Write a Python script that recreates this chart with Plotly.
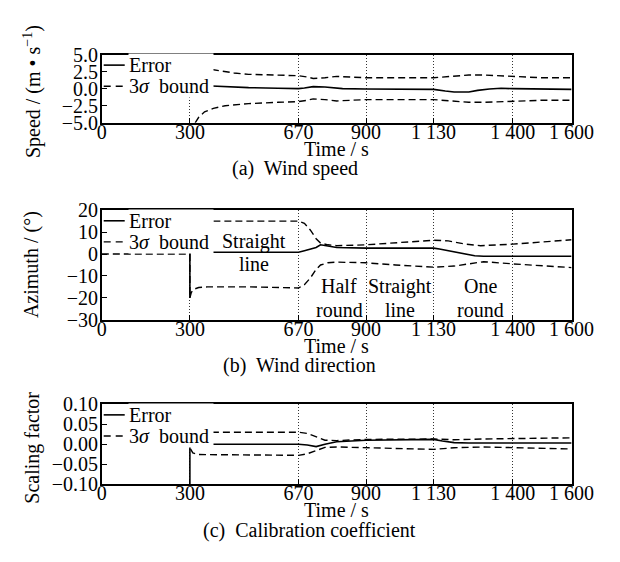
import plotly.graph_objects as go

# ---------------- data ----------------
x_ticks = [0, 300, 670, 900, 1130, 1400, 1600]
x_ticktext = ["0", "300", "670", "900", "1 130", "1 400", "1 600"]

# (a) wind speed
spd_err_t = [375, 420, 500, 600, 670, 690, 720, 760, 820, 900, 1000, 1130, 1170, 1200, 1250, 1280, 1320, 1360, 1400, 1500, 1600]
spd_err_v = [0.4, 0.3, 0.15, 0.05, 0.0, 0.1, 0.3, 0.25, 0.0, -0.05, -0.05, -0.1, -0.35, -0.5, -0.5, -0.25, -0.05, 0.05, 0.0, -0.05, -0.1]
spd_up_t = [375, 400, 450, 500, 600, 670, 700, 720, 760, 800, 850, 900, 1130, 1200, 1250, 1300, 1400, 1500, 1600]
spd_up_v = [2.8, 2.6, 2.3, 2.1, 2.0, 1.9, 1.7, 1.5, 1.6, 1.8, 1.7, 1.6, 1.6, 1.8, 2.0, 2.0, 1.8, 1.6, 1.6]
spd_lo_t = [318, 330, 350, 380, 420, 500, 600, 670, 700, 720, 760, 800, 850, 900, 1130, 1200, 1250, 1300, 1400, 1500, 1600]
spd_lo_v = [-5.0, -4.2, -3.4, -2.9, -2.5, -2.2, -2.0, -1.9, -1.7, -1.5, -1.6, -1.8, -1.7, -1.6, -1.6, -1.8, -2.0, -2.0, -1.8, -1.7, -1.7]
spd_yticks = [5.0, 2.5, 0.0, -2.5, -5.0]
spd_yticktext = ["5.0", "2.5", "0.0", "\u22122.5", "\u22125.0"]

# (b) wind direction
az_err_t = [300, 300, 310, 670, 690, 710, 730, 745, 770, 800, 900, 1000, 1130, 1150, 1180, 1210, 1240, 1270, 1300, 1400, 1600]
az_err_v = [-20, 0.8, 0.8, 0.8, 1.5, 2.2, 3.0, 4.2, 3.5, 3.0, 2.7, 2.7, 2.7, 2.3, 1.5, 0.5, 0.0, -0.8, -1.0, -1.0, -1.0]
az_up_t = [380, 500, 670, 690, 710, 730, 745, 770, 800, 900, 1000, 1130, 1180, 1240, 1290, 1400, 1500, 1600]
az_up_v = [15, 15, 15, 14, 11, 7, 5, 4.2, 3.8, 4.2, 5.0, 6.3, 6.0, 4.5, 3.8, 4.5, 5.5, 6.5]
az_lo_t = [0, 300, 300, 305, 315, 330, 360, 500, 670, 690, 710, 730, 745, 770, 800, 900, 1000, 1130, 1200, 1270, 1300, 1400, 1500, 1600]
az_lo_v = [0, 0, -20, -17.5, -16, -15.3, -15, -15, -15.5, -14, -11, -7, -5, -4, -3.7, -4, -5, -6, -5.5, -4, -3.5, -4.5, -5.5, -6.2]
az_yticks = [20, 10, 0, -10, -20, -30]
az_yticktext = ["20", "10", "0", "\u221210", "\u221220", "\u221230"]
phase_t = [517, 808, 1015, 1290]
phase_top = ["Straight", "Half", "Straight", "One"]
phase_bot = ["line", "round", "line", "round"]

# (c) calibration coefficient
sc_err_t = [300, 300, 310, 670, 700, 730, 760, 800, 900, 1130, 1160, 1200, 1250, 1600]
sc_err_v = [-0.1, 0.0, 0.0, 0.0, -0.002, -0.006, 0.0, 0.006, 0.01, 0.012, 0.008, 0.004, 0.003, 0.003]
sc_up_t = [375, 500, 670, 700, 730, 760, 800, 900, 1130, 1200, 1300, 1600]
sc_up_v = [0.03, 0.03, 0.03, 0.027, 0.018, 0.01, 0.009, 0.012, 0.013, 0.011, 0.013, 0.016]
sc_lo_t = [302, 310, 330, 500, 670, 700, 730, 760, 800, 900, 1130, 1200, 1300, 1600]
sc_lo_v = [-0.012, -0.022, -0.026, -0.027, -0.028, -0.024, -0.015, -0.008, -0.007, -0.009, -0.013, -0.009, -0.007, -0.012]
sc_yticks = [0.10, 0.05, 0.0, -0.05, -0.10]
sc_yticktext = ["0.10", "0.05", "0.00", "\u22120.05", "\u22120.10"]

# ---------------- layout ----------------
W, H = 620, 562
FONT = "Liberation Serif, Times New Roman, serif"
FS = 20
X0, X1 = 93, 585
panels = [(37, 108), (199, 313), (401, 484)]
cap_x = [295, 300, 310]
ytitle_y = [76, 256, 446]


def px(xp):
    return xp / W


def py(yp):
    return 1 - yp / H


fig = go.Figure()

series = [
    (spd_err_t, spd_err_v, spd_up_t, spd_up_v, spd_lo_t, spd_lo_v),
    (az_err_t, az_err_v, az_up_t, az_up_v, az_lo_t, az_lo_v),
    (sc_err_t, sc_err_v, sc_up_t, sc_up_v, sc_lo_t, sc_lo_v),
]
yranges = [[-5, 5], [-30, 20], [-0.1, 0.1]]
yticks = [(spd_yticks, spd_yticktext), (az_yticks, az_yticktext), (sc_yticks, sc_yticktext)]
ytitles = ["Speed / (m \u2022 s<sup>\u22121</sup>)", "Azimuth / (\u00b0)", "Scaling factor"]
captions = ["(a)  Wind speed", "(b)  Wind direction", "(c)  Calibration coefficient"]
dash = "7px,4px"
txtfont = dict(family=FONT, size=FS, color="black")

annotations = []
shapes = []
for i, (et, ev, ut, uv, lt, lv) in enumerate(series):
    n = "" if i == 0 else str(i + 1)
    xa, ya = "x" + n, "y" + n
    fig.add_trace(go.Scatter(x=lt, y=lv, mode="lines", xaxis=xa, yaxis=ya, showlegend=False,
                             line=dict(color="black", width=1.4, dash=dash)))
    fig.add_trace(go.Scatter(x=ut, y=uv, mode="lines", xaxis=xa, yaxis=ya, showlegend=False,
                             line=dict(color="black", width=1.4, dash=dash)))
    fig.add_trace(go.Scatter(x=et, y=ev, mode="lines", xaxis=xa, yaxis=ya, showlegend=False,
                             line=dict(color="black", width=1.6)))
    top, bot = panels[i]
    axcommon = dict(showline=True, linecolor="black", linewidth=1.7, mirror=True,
                    ticks="inside", ticklen=5, tickcolor="black", tickwidth=1.2,
                    tickfont=txtfont, zeroline=False)
    fig.update_layout(**{
        "xaxis" + n: dict(domain=[px(X0), px(X1)], range=[0, 1600], anchor=ya,
                          tickvals=x_ticks, ticktext=x_ticktext, showgrid=True,
                          gridcolor="#333333", griddash="1px,2px", gridwidth=1,
                          ticklabelstandoff=-10, **axcommon),
        "yaxis" + n: dict(domain=[py(bot), py(top)], range=yranges[i], anchor=xa,
                          tickvals=yticks[i][0], ticktext=yticks[i][1], showgrid=False,
                          ticklabelstandoff=-2, **axcommon),
    })
    # legend: text with white background + line samples
    for k, (lbl, dy) in enumerate([("Error", 11), ("3<i>\u03c3</i>  bound", 33)]):
        annotations.append(dict(xref="paper", yref="paper", x=px(120), y=py(top + dy),
                                text=lbl, showarrow=False, xanchor="left", yanchor="middle",
                                font=txtfont, bgcolor="white", width=84,
                                align="left", borderpad=0))
        shapes.append(dict(type="line", xref="paper", yref="paper",
                           x0=px(95), x1=px(117), y0=py(top + dy), y1=py(top + dy),
                           line=dict(color="black", width=1.6 if k == 0 else 1.4,
                                     dash="solid" if k == 0 else "7px,5px"),
                           layer="above"))
    # axis titles and captions
    annotations.append(dict(xref="paper", yref="paper", x=px((X0 + X1) / 2), y=py(bot + 27),
                            text="Time / s", showarrow=False, xanchor="center", yanchor="middle",
                            font=txtfont))
    annotations.append(dict(xref="paper", yref="paper", x=px(cap_x[i]), y=py(bot + 48),
                            text=captions[i], showarrow=False, xanchor="center", yanchor="middle",
                            font=txtfont))
    annotations.append(dict(xref="paper", yref="paper", x=px(20), y=py(ytitle_y[i]),
                            text=ytitles[i], showarrow=False, xanchor="center", yanchor="middle",
                            textangle=-90, font=txtfont))

for t, a, b in zip(phase_t, phase_top, phase_bot):
    ytop, ybot = (5.5, -4.6) if t < 700 else (-14.6, -25.6)
    annotations.append(dict(xref="x2", yref="y2", x=t, y=ytop, text=a, showarrow=False,
                            xanchor="center", yanchor="middle", font=txtfont))
    annotations.append(dict(xref="x2", yref="y2", x=t, y=ybot, text=b, showarrow=False,
                            xanchor="center", yanchor="middle", font=txtfont))

fig.update_layout(width=W, height=H, margin=dict(l=0, r=0, t=0, b=0),
                  paper_bgcolor="white", plot_bgcolor="white",
                  annotations=annotations, shapes=shapes, showlegend=False)

fig.write_html("out.html")
